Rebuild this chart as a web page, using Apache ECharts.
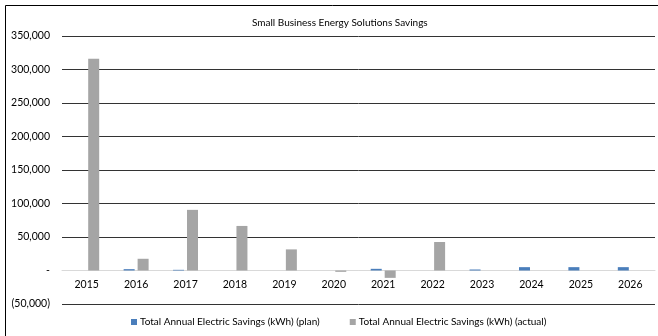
<!DOCTYPE html>
<html>
<head>
<meta charset="utf-8">
<script src="https://cdn.jsdelivr.net/npm/echarts@6/dist/echarts.min.js"></script>
<style>
  html, body { margin: 0; padding: 0; background: #fff; }
  #chart { width: 658px; height: 336px; }
</style>
</head>
<body>
<div id="chart"></div>
<script>
// Program years
const years = ['2015', '2016', '2017', '2018', '2019', '2020', '2021', '2022', '2023', '2024', '2025', '2026'];
// Annual electric savings in kWh
const planSavings = [0, 2000, 1000, 0, 0, 0, 2500, 0, 1500, 5000, 5000, 5000];
const actualSavings = [316000, 17500, 90500, 66500, 31500, -2000, -11000, 42500, 0, 0, 0, 0];
// Value axis range
const yMin = -50000;
const yMax = 350000;
const yStep = 50000;

const fontFamily = 'Lato, "Open Sans", sans-serif';
const gridTop = 36;
const gridBottom = 32;
const plotHeight = 336 - gridTop - gridBottom;
// distance from the bottom edge of the plot up to the zero line
const zeroOffset = plotHeight * (0 - yMin) / (yMax - yMin);

function fmt(v) {
  if (v === 0) return '-';
  const s = Math.abs(v).toLocaleString('en-US');
  return v < 0 ? '(' + s + ')' : s;
}

const chart = echarts.init(document.getElementById('chart'), null, { renderer: 'canvas' });
chart.setOption({
  animation: false,
  backgroundColor: '#fff',
  title: {
    text: 'Small Business Energy Solutions Savings',
    left: 247,
    top: 13,
    textStyle: { fontFamily, fontSize: 10, fontWeight: 'normal', color: '#000' }
  },
  graphic: [{
    type: 'polyline',
    shape: { points: [[5.5, 340], [5.5, 5.5], [660, 5.5]] },
    style: { stroke: '#000', lineWidth: 1, fill: null },
    silent: true
  }],
  legend: {
    bottom: 4,
    left: 126,
    itemWidth: 6,
    itemHeight: 6,
    itemGap: 30,
    icon: 'rect',
    textStyle: { fontFamily, fontSize: 10, color: '#000', padding: [0, 0, 0, -2] },
    data: ['Total Annual Electric Savings (kWh) (plan)', 'Total Annual Electric Savings (kWh) (actual)']
  },
  grid: { left: 62, right: 3, top: gridTop, bottom: gridBottom, containLabel: false },
  xAxis: {
    type: 'category',
    data: years,
    position: 'bottom',
    offset: -zeroOffset,
    axisLine: { onZero: false, lineStyle: { color: '#d9d9d9', width: 1 } },
    axisTick: { show: false },
    axisLabel: { fontFamily, fontSize: 10.5, color: '#000', margin: 9 }
  },
  yAxis: {
    type: 'value',
    min: yMin,
    max: yMax,
    interval: yStep,
    axisLine: { show: false },
    axisTick: { show: false },
    axisLabel: {
      fontFamily, fontSize: 10.5, color: '#000', margin: 12,
      formatter: fmt
    },
    splitLine: {
      lineStyle: { color: ['#333', '#d9d9d9', '#333', '#333', '#333', '#333', '#333', '#333', '#333'], width: 1 }
    }
  },
  series: [
    {
      name: 'Total Annual Electric Savings (kWh) (plan)',
      type: 'bar',
      data: planSavings,
      barWidth: 11,
      barGap: '27%',
      itemStyle: { color: '#4A7EBB' }
    },
    {
      name: 'Total Annual Electric Savings (kWh) (actual)',
      type: 'bar',
      data: actualSavings,
      barWidth: 11,
      barGap: '27%',
      itemStyle: { color: '#A5A5A5' }
    }
  ]
});
</script>
</body>
</html>
